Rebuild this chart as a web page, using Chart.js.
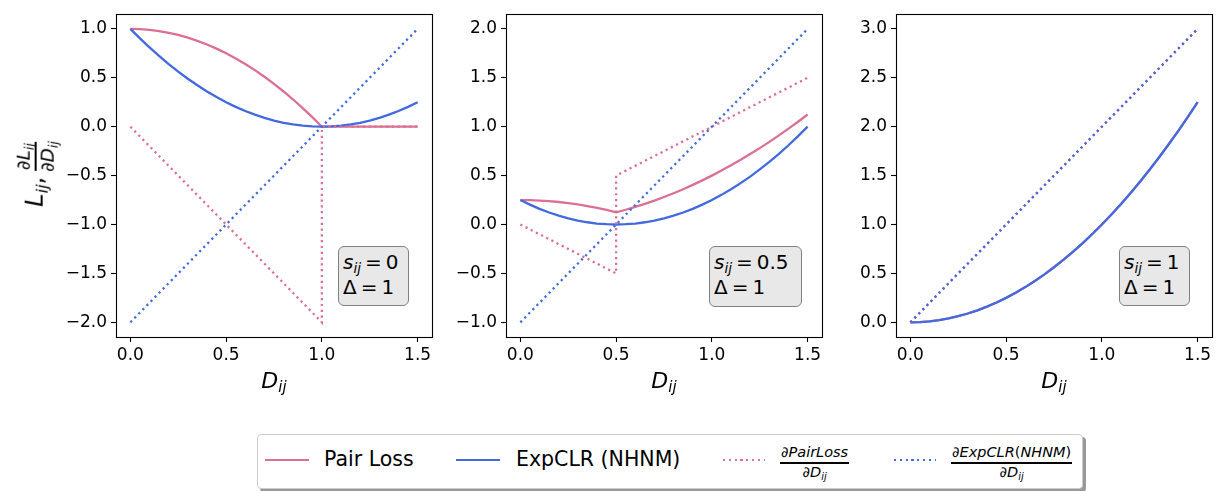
<!DOCTYPE html>
<html>
<head>
<meta charset="utf-8">
<script src="https://cdn.jsdelivr.net/npm/chart.js@4.4.1/dist/chart.umd.min.js"></script>
<style>
  body { margin: 0; background: #fff; font-family: "DejaVu Sans", sans-serif; color: #000; }
  #fig { position: relative; width: 1217px; height: 491px; overflow: hidden; }
  .panel { position: absolute; top: 0; }
  .xlab { position: absolute; top: 368px; font-size: 22px; text-align: center; }
  .ylab { position: absolute; left: 36px; top: 174px; transform: translate(-50%, -50%) rotate(-90deg); white-space: nowrap; font-size: 24px; }
  sub { font-size: 0.68em; vertical-align: -0.3em; line-height: 0; }
  .frac { display: inline-flex; flex-direction: column; align-items: center; vertical-align: middle; font-size: 15px; line-height: 1.1; }
  .frac .num { border-bottom: 2px solid #000; padding: 0 1px 1px; }
  .frac .den { padding-top: 1px; }
  .note { position: absolute; background: #e8e8e8; border: 1.5px solid #808080; border-radius: 6px; font-size: 20px; line-height: 25px; padding: 3px 4px; box-sizing: border-box; white-space: nowrap; }
  .legend { position: absolute; left: 257px; top: 434px; width: 826px; height: 55px; border: 1px solid #ccc; border-radius: 4px; background: #fff; box-shadow: 3px 3px 0 #999; box-sizing: border-box; }
  .lg-line { position: absolute; height: 2px; top: 459px; }
  .lg-text { position: absolute; top: 447px; font-size: 20.5px; line-height: 24px; }
  .lg-frac { position: absolute; top: 445px; font-size: 14.5px; }
</style>
</head>
<body>
<div id="fig">
  <div class="panel" style="left:0px;width:440px;height:400px"><canvas id="c1" width="440" height="400"></canvas></div>
  <div class="panel" style="left:440px;width:390px;height:400px"><canvas id="c2" width="390" height="400"></canvas></div>
  <div class="panel" style="left:830px;width:387px;height:400px"><canvas id="c3" width="387" height="400"></canvas></div>

  <div class="ylab"><i>L</i><sub><i>ij</i></sub>,&thinsp;<span class="frac" style="font-size:18.5px"><span class="num">&part;<i>L</i><sub><i>ij</i></sub></span><span class="den">&part;<i>D</i><sub><i>ij</i></sub></span></span></div>

  <div class="xlab" style="left:116px;width:316px"><i>D</i><sub><i>ij</i></sub></div>
  <div class="xlab" style="left:506px;width:316px"><i>D</i><sub><i>ij</i></sub></div>
  <div class="xlab" style="left:896px;width:316px"><i>D</i><sub><i>ij</i></sub></div>

  <div class="note" style="left:338px;top:246px;width:71px;height:60px"><i>s</i><sub><i>ij</i></sub>&#8239;=&#8239;0<br>&Delta;&#8239;=&#8239;1</div>
  <div class="note" style="left:709px;top:246px;width:93px;height:61px"><i>s</i><sub><i>ij</i></sub>&#8239;=&#8239;0.5<br>&Delta;&#8239;=&#8239;1</div>
  <div class="note" style="left:1119px;top:246px;width:71px;height:60px"><i>s</i><sub><i>ij</i></sub>&#8239;=&#8239;1<br>&Delta;&#8239;=&#8239;1</div>

  <div class="legend"></div>
  <div class="lg-line" style="left:265px;width:44px;background:#db7093"></div>
  <div class="lg-text" style="left:324px">Pair Loss</div>
  <div class="lg-line" style="left:456px;width:44px;background:#4169e1"></div>
  <div class="lg-text" style="left:516px">ExpCLR (NHNM)</div>
  <div class="lg-line" style="left:723px;width:42px;background:repeating-linear-gradient(90deg,#db7093 0 2.2px,transparent 2.2px 5.8px)"></div>
  <div class="lg-frac" style="left:780px"><span class="frac" style="font-size:14.5px"><span class="num"><i>&part;PairLoss</i></span><span class="den"><i>&part;D</i><sub><i>ij</i></sub></span></span></div>
  <div class="lg-line" style="left:894px;width:42px;background:repeating-linear-gradient(90deg,#4169e1 0 2.2px,transparent 2.2px 5.8px)"></div>
  <div class="lg-frac" style="left:951px"><span class="frac" style="font-size:14.5px"><span class="num"><i>&part;ExpCLR</i>(<i>NHNM</i>)</span><span class="den"><i>&part;D</i><sub><i>ij</i></sub></span></span></div>
</div>

<script>
// sample positions along D_ij
const dValues = [0, 0.05, 0.1, 0.15, 0.2, 0.25, 0.3, 0.35, 0.4, 0.45, 0.5, 0.55, 0.6, 0.65, 0.7, 0.75,
  0.8, 0.85, 0.9, 0.95, 1.0, 1.05, 1.1, 1.15, 1.2, 1.25, 1.3, 1.35, 1.4, 1.45, 1.5];

// s_ij = 0
const pairLoss1 = [1, 0.998, 0.99, 0.978, 0.96, 0.938, 0.91, 0.878, 0.84, 0.798, 0.75, 0.698, 0.64, 0.578, 0.51, 0.438,
  0.36, 0.278, 0.19, 0.098, 0, 0, 0, 0, 0, 0, 0, 0, 0, 0, 0];
const expLoss1 = [1, 0.903, 0.81, 0.723, 0.64, 0.563, 0.49, 0.423, 0.36, 0.303, 0.25, 0.203, 0.16, 0.123, 0.09, 0.063,
  0.04, 0.023, 0.01, 0.003, 0, 0.003, 0.01, 0.023, 0.04, 0.063, 0.09, 0.123, 0.16, 0.203, 0.25];
const pairGradX1 = [0, 1, 1, 1.5];
const pairGradY1 = [0, -2, 0, 0];
const expGradX1 = [0, 1.5];
const expGradY1 = [-2, 1];

// s_ij = 0.5
const pairLoss2 = [0.25, 0.249, 0.245, 0.239, 0.23, 0.219, 0.205, 0.189, 0.17, 0.149, 0.125, 0.151, 0.18, 0.211, 0.245, 0.281,
  0.32, 0.361, 0.405, 0.451, 0.5, 0.551, 0.605, 0.661, 0.72, 0.781, 0.845, 0.911, 0.98, 1.051, 1.125];
const expLoss2 = [0.25, 0.203, 0.16, 0.123, 0.09, 0.063, 0.04, 0.023, 0.01, 0.003, 0, 0.003, 0.01, 0.023, 0.04, 0.063,
  0.09, 0.123, 0.16, 0.203, 0.25, 0.303, 0.36, 0.423, 0.49, 0.563, 0.64, 0.723, 0.81, 0.903, 1];
const pairGradX2 = [0, 0.5, 0.5, 1.5];
const pairGradY2 = [0, -0.5, 0.5, 1.5];
const expGradX2 = [0, 1.5];
const expGradY2 = [-1, 2];

// s_ij = 1 (both losses coincide)
const pairLoss3 = [0, 0.003, 0.01, 0.023, 0.04, 0.063, 0.09, 0.123, 0.16, 0.203, 0.25, 0.303, 0.36, 0.423, 0.49, 0.563,
  0.64, 0.723, 0.81, 0.903, 1, 1.103, 1.21, 1.323, 1.44, 1.563, 1.69, 1.823, 1.96, 2.103, 2.25];
const expLoss3 = [0, 0.003, 0.01, 0.023, 0.04, 0.063, 0.09, 0.123, 0.16, 0.203, 0.25, 0.303, 0.36, 0.423, 0.49, 0.563,
  0.64, 0.723, 0.81, 0.903, 1, 1.103, 1.21, 1.323, 1.44, 1.563, 1.69, 1.823, 1.96, 2.103, 2.25];
const pairGradX3 = [0, 1.5];
const pairGradY3 = [0, 3];
const expGradX3 = [0, 1.5];
const expGradY3 = [0, 3];

const xTicks = [0, 0.5, 1, 1.5];
const yTicks1 = [-2, -1.5, -1, -0.5, 0, 0.5, 1];
const yTicks2 = [-1, -0.5, 0, 0.5, 1, 1.5, 2];
const yTicks3 = [0, 0.5, 1, 1.5, 2, 2.5, 3];

const PINK = '#db7093';
const BLUE = '#4169e1';

function pts(xs, ys) {
  return xs.map((x, i) => ({ x: x, y: ys[i] }));
}

function fmt(v) {
  return v.toFixed(1).replace('-', '\u2212');
}

const frame = {
  id: 'frame',
  afterDraw(chart) {
    const a = chart.chartArea, ctx = chart.ctx;
    ctx.save();
    ctx.strokeStyle = '#000';
    ctx.lineWidth = 1.1;
    ctx.strokeRect(Math.round(a.left) + 0.5, Math.round(a.top) + 0.5,
      Math.round(a.right - a.left), Math.round(a.bottom - a.top));
    ctx.restore();
  }
};

function makePanel(id, yW, padRight, yMin, yMax, yTicks, pair, exp, pgx, pgy, egx, egy) {
  const solid = (data, color, order) => ({
    data: data, borderColor: color, borderWidth: 2.3, pointRadius: 0, tension: 0, order: order
  });
  const dotted = (data, color, order) => ({
    data: data, borderColor: color, borderWidth: 2.3, borderDash: [2.2, 3.6], pointRadius: 0, tension: 0, order: order
  });
  new Chart(document.getElementById(id), {
    type: 'line',
    data: {
      datasets: [
        solid(pts(dValues, pair), PINK, 4),
        solid(pts(dValues, exp), BLUE, 3),
        dotted(pts(pgx, pgy), PINK, 2),
        dotted(pts(egx, egy), BLUE, 1)
      ]
    },
    options: {
      responsive: false,
      animation: false,
      devicePixelRatio: 1,
      layout: { padding: { left: 0, top: 6, right: padRight, bottom: 0 } },
      plugins: { legend: { display: false }, tooltip: { enabled: false } },
      scales: {
        x: {
          type: 'linear', min: -0.075, max: 1.575,
          afterBuildTicks: s => { s.ticks = xTicks.map(v => ({ value: v })); },
          afterFit: s => { s.height = 63; },
          border: { display: false },
          grid: { drawOnChartArea: false, drawTicks: true, tickLength: 5, color: '#000', tickWidth: 1.1 },
          ticks: { autoSkip: false, maxRotation: 0, padding: 3, color: '#000',
            font: { family: 'DejaVu Sans', size: 17 }, callback: v => fmt(v) }
        },
        y: {
          type: 'linear', min: yMin, max: yMax,
          afterBuildTicks: s => { s.ticks = yTicks.map(v => ({ value: v })); },
          afterFit: s => { s.width = yW; },
          border: { display: false },
          grid: { drawOnChartArea: false, drawTicks: true, tickLength: 5, color: '#000', tickWidth: 1.1 },
          ticks: { autoSkip: false, padding: 4, color: '#000',
            font: { family: 'DejaVu Sans', size: 17 }, callback: v => fmt(v) }
        }
      }
    },
    plugins: [frame]
  });
}

makePanel('c1', 116, 8, -2.15, 1.15, yTicks1, pairLoss1, expLoss1, pairGradX1, pairGradY1, expGradX1, expGradY1);
makePanel('c2', 66, 8, -1.15, 2.15, yTicks2, pairLoss2, expLoss2, pairGradX2, pairGradY2, expGradX2, expGradY2);
makePanel('c3', 66, 5, -0.15, 3.15, yTicks3, pairLoss3, expLoss3, pairGradX3, pairGradY3, expGradX3, expGradY3);
</script>
</body>
</html>
